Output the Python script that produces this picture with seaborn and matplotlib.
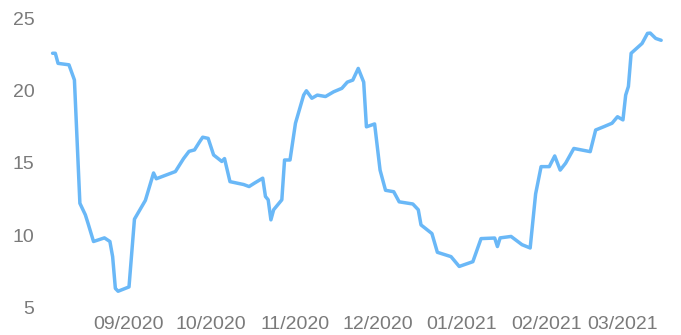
import pandas as pd
import seaborn as sns
import matplotlib.pyplot as plt
import matplotlib.dates as mdates

# values (vertices)
dates = [
    "2020-08-04", "2020-08-05", "2020-08-06", "2020-08-10", "2020-08-12",
    "2020-08-14", "2020-08-16", "2020-08-17", "2020-08-19", "2020-08-23",
    "2020-08-25", "2020-08-26", "2020-08-27", "2020-08-28", "2020-09-01",
    "2020-09-03", "2020-09-07", "2020-09-10", "2020-09-11", "2020-09-18",
    "2020-09-21", "2020-09-23", "2020-09-25", "2020-09-27", "2020-09-28",
    "2020-09-30", "2020-10-02", "2020-10-05", "2020-10-06", "2020-10-08",
    "2020-10-13", "2020-10-15", "2020-10-17", "2020-10-20", "2020-10-21",
    "2020-10-22", "2020-10-23", "2020-10-24", "2020-10-27", "2020-10-28",
    "2020-10-30", "2020-11-01", "2020-11-04", "2020-11-05", "2020-11-07",
    "2020-11-09", "2020-11-12", "2020-11-15", "2020-11-18", "2020-11-20",
    "2020-11-22", "2020-11-24", "2020-11-26", "2020-11-27", "2020-11-30",
    "2020-12-02", "2020-12-04", "2020-12-07", "2020-12-09", "2020-12-14",
    "2020-12-16", "2020-12-17", "2020-12-21", "2020-12-23", "2020-12-28",
    "2020-12-31", "2021-01-05", "2021-01-08", "2021-01-13", "2021-01-14",
    "2021-01-15", "2021-01-19", "2021-01-23", "2021-01-26", "2021-01-28",
    "2021-01-30", "2021-02-02", "2021-02-04", "2021-02-06", "2021-02-08",
    "2021-02-11", "2021-02-17", "2021-02-19", "2021-02-22", "2021-02-25",
    "2021-02-27", "2021-03-01", "2021-03-02", "2021-03-03", "2021-03-04",
    "2021-03-06", "2021-03-08", "2021-03-10", "2021-03-11", "2021-03-13",
    "2021-03-15",
]
values = [
    22.6, 22.6, 21.9, 21.8, 20.75,
    12.2, 11.4, 10.8, 9.55, 9.8,
    9.55, 8.5, 6.3, 6.1, 6.4,
    11.1, 12.4, 14.3, 13.9, 14.4,
    15.3, 15.8, 15.9, 16.5, 16.78,
    16.7, 15.55, 15.1, 15.3, 13.7,
    13.5, 13.36, 13.6, 13.94, 12.67,
    12.44, 11.05, 11.75, 12.44, 15.2,
    15.2, 17.75, 19.7, 20.0, 19.48,
    19.7, 19.6, 19.93, 20.17, 20.6,
    20.74, 21.55, 20.6, 17.5, 17.7,
    14.5, 13.1, 13.0, 12.3, 12.15,
    11.75, 10.7, 10.1, 8.8, 8.5,
    7.82, 8.15, 9.75, 9.79, 9.2,
    9.8, 9.9, 9.33, 9.1, 12.85,
    14.74, 14.74, 15.48, 14.5, 14.98,
    16.0, 15.78, 17.28, 17.51, 17.75,
    18.2, 17.98, 19.7, 20.3, 22.6,
    22.94, 23.28, 23.98, 24.0, 23.63,
    23.5,
]
yticks = [5, 10, 15, 20, 25]

df = pd.DataFrame({"date": pd.to_datetime(dates), "value": values})

sns.set_style("white")
plt.rcParams["font.family"] = ["Liberation Sans", "DejaVu Sans"]

W, H = 681, 335
fig = plt.figure(figsize=(W / 100, H / 100), dpi=100)
ax = fig.add_axes([40 / W, 1 - 310 / H, 635 / W, 300 / H])

sns.lineplot(data=df, x="date", y="value", ax=ax, color="#6ab8f7", linewidth=2.5)

sep1 = mdates.date2num(pd.Timestamp("2020-09-01"))
ax.set_xlim(sep1 + (40 - 129) / 2.729, sep1 + (675 - 129) / 2.729)
ax.set_ylim(4.8, 25.6)
ax.set_yticks(yticks)
ax.xaxis.set_major_locator(mdates.MonthLocator(bymonth=[9, 10, 11, 12, 1, 2, 3]))
ax.xaxis.set_major_formatter(mdates.DateFormatter("%m/%Y"))

ax.set_xlabel("")
ax.set_ylabel("")
for s in ax.spines.values():
    s.set_visible(False)
ax.tick_params(length=0, labelsize=14, colors="#7a7a7a")
ax.tick_params(axis="y", pad=4)
ax.tick_params(axis="x", pad=4)

fig.savefig("out.png", dpi=100)
